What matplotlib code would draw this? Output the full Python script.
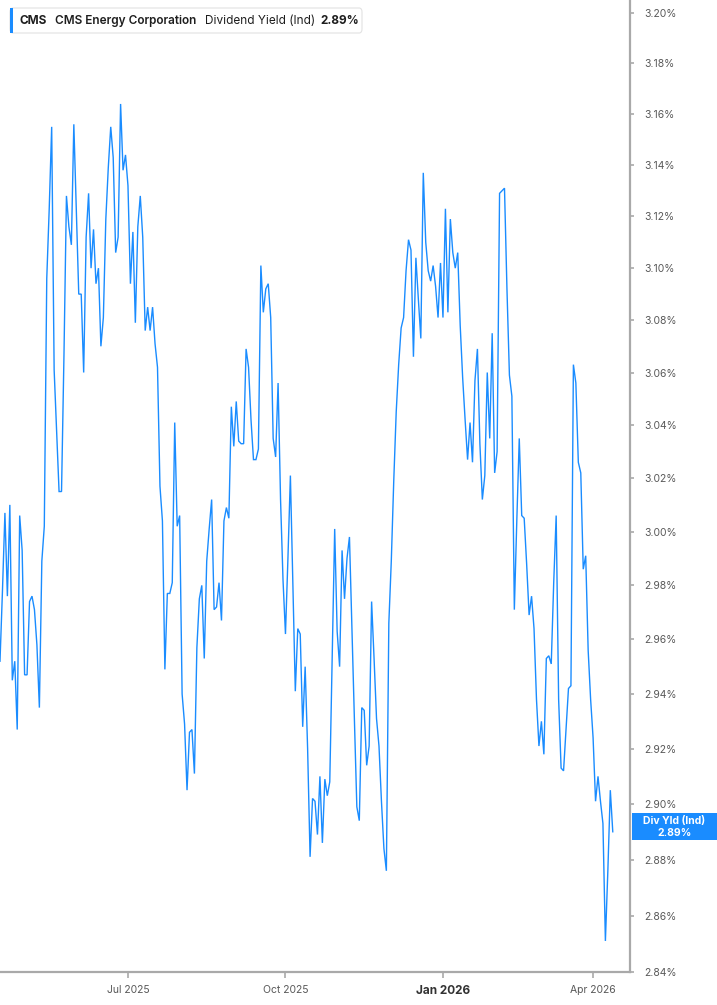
import numpy as np
import matplotlib
matplotlib.use("Agg")
import matplotlib.pyplot as plt
from matplotlib.patches import FancyBboxPatch, Rectangle
from matplotlib.ticker import FixedLocator, FuncFormatter, NullLocator

plt.rcParams['font.family'] = ['Inter', 'DejaVu Sans']

# --- data (one value per trading session) ---
ticker_sym = "CMS"
company = "CMS Energy Corporation"
metric = "Dividend Yield (Ind)"
short_metric = "Div Yld (Ind)"

div_yield = [
    2.952, 2.978, 3.007, 2.976, 3.010, 2.945, 2.952, 2.927, 3.006, 2.993,
    2.947, 2.947, 2.974, 2.976, 2.971, 2.958, 2.935, 2.989, 3.002, 3.096,
    3.123, 3.155, 3.061, 3.038, 3.015, 3.015, 3.067, 3.128, 3.116, 3.109,
    3.156, 3.123, 3.090, 3.090, 3.060, 3.112, 3.129, 3.100, 3.115, 3.094,
    3.100, 3.070, 3.081, 3.119, 3.139, 3.155, 3.143, 3.106, 3.112, 3.164,
    3.138, 3.144, 3.132, 3.094, 3.114, 3.079, 3.116, 3.128, 3.112, 3.076,
    3.085, 3.076, 3.085, 3.071, 3.062, 3.017, 3.004, 2.949, 2.977, 2.977,
    2.981, 3.041, 3.002, 3.006, 2.940, 2.929, 2.905, 2.926, 2.927, 2.911,
    2.957, 2.975, 2.980, 2.953, 2.989, 3.001, 3.012, 2.971, 2.972, 2.981,
    2.967, 3.004, 3.009, 3.005, 3.047, 3.032, 3.049, 3.034, 3.033, 3.033,
    3.069, 3.062, 3.042, 3.027, 3.027, 3.031, 3.101, 3.083, 3.092, 3.094,
    3.081, 3.035, 3.028, 3.056, 3.012, 2.982, 2.962, 2.990, 3.021, 2.981,
    2.941, 2.964, 2.962, 2.928, 2.950, 2.920, 2.881, 2.902, 2.901, 2.889,
    2.910, 2.886, 2.909, 2.903, 2.908, 2.954, 3.001, 2.963, 2.950, 2.993,
    2.975, 2.990, 2.998, 2.964, 2.931, 2.899, 2.894, 2.935, 2.934, 2.914,
    2.921, 2.974, 2.953, 2.931, 2.921, 2.901, 2.884, 2.876, 2.966, 2.989,
    3.019, 3.045, 3.063, 3.077, 3.081, 3.099, 3.111, 3.107, 3.066, 3.104,
    3.088, 3.073, 3.137, 3.110, 3.099, 3.095, 3.101, 3.093, 3.081, 3.102,
    3.081, 3.123, 3.083, 3.119, 3.106, 3.100, 3.106, 3.078, 3.058, 3.042,
    3.027, 3.041, 3.026, 3.057, 3.069, 3.033, 3.012, 3.021, 3.060, 3.035,
    3.075, 3.022, 3.030, 3.129, 3.130, 3.131, 3.092, 3.059, 3.051, 2.971,
    3.004, 3.035, 3.006, 3.005, 2.988, 2.969, 2.976, 2.964, 2.938, 2.921,
    2.930, 2.918, 2.953, 2.954, 2.951, 2.981, 3.006, 2.938, 2.913, 2.912,
    2.927, 2.942, 2.943, 3.063, 3.056, 3.026, 3.022, 2.986, 2.991, 2.956,
    2.938, 2.924, 2.901, 2.910, 2.901, 2.893, 2.851, 2.876, 2.905, 2.890,
]

month_labels = ["Jul 2025", "Oct 2025", "Jan 2026", "Apr 2026"]
month_sessions = [52, 116, 180, 241]
y_ticks = [2.84, 2.86, 2.88, 2.90, 2.92, 2.94, 2.96, 2.98, 3.00,
           3.02, 3.04, 3.06, 3.08, 3.10, 3.12, 3.14, 3.16, 3.18, 3.20]

BLUE = "#1a8cff"
AXIS_GRAY = "#a9a9a9"
TXT = "#595959"
DARK = "#1e1e1e"

W, H = 717, 1005
fig = plt.figure(figsize=(W / 100, H / 100), dpi=100)
fig.patch.set_facecolor("white")


def fx(px):
    return px / W


def fy(py):
    return 1 - py / H


ax = fig.add_axes([0, fy(972), fx(630), 1 - fy(972)])
x = np.arange(len(div_yield))
ax.plot(x, div_yield, color=BLUE, lw=1.0, solid_joinstyle="miter")

ax.set_yscale("log")
ax.set_ylim(2.84, 3.2052)
ax.set_xlim(0, 256)

# right-hand y axis
ax.yaxis.tick_right()
ax.yaxis.set_major_locator(FixedLocator(y_ticks))
ax.yaxis.set_minor_locator(NullLocator())
ax.yaxis.set_major_formatter(FuncFormatter(lambda v, _: f"{v:.2f}%"))
ax.tick_params(axis="y", direction="out", length=3, width=1.2, color=AXIS_GRAY,
               labelsize=7.5, labelcolor=TXT, pad=7)

# x axis
ax.set_xticks(month_sessions, month_labels)
ax.xaxis.set_minor_locator(NullLocator())
ax.tick_params(axis="x", direction="out", length=4, width=1.2, color=AXIS_GRAY,
               labelsize=7.5, labelcolor=TXT, pad=5)
for lbl in ax.get_xticklabels():
    if lbl.get_text().startswith("Jan"):
        lbl.set_fontweight("bold")
        lbl.set_color("#333333")
        lbl.set_fontsize(8.5)

for side in ("left", "top"):
    ax.spines[side].set_visible(False)
for side in ("right", "bottom"):
    ax.spines[side].set_color(AXIS_GRAY)
    ax.spines[side].set_linewidth(1.6)

# header legend box
hdr = FancyBboxPatch((fx(10), fy(33)), fx(352), 25 / H,
                     boxstyle="round,pad=0,rounding_size=0.004",
                     transform=fig.transFigure, facecolor="white",
                     edgecolor="#e2e2e2", lw=0.8, zorder=5)
fig.patches.append(hdr)
fig.patches.append(Rectangle((fx(10), fy(33)), fx(3), 25 / H,
                             transform=fig.transFigure, facecolor=BLUE,
                             edgecolor="none", zorder=6))
ty = fy(21)
fig.text(fx(20), ty, ticker_sym, fontsize=8.5, fontweight="bold",
         color=DARK, va="center", zorder=7)
fig.text(fx(55), ty, company, fontsize=8.5, fontweight="semibold",
         color=DARK, va="center", zorder=7)
fig.text(fx(205), ty, metric, fontsize=8.5, color=DARK, va="center", zorder=7)
fig.text(fx(320), ty, f"{div_yield[-1]:.2f}%", fontsize=8.5,
         fontweight="bold", color=DARK, va="center", zorder=7)

# last-value tag on the right axis
last_disp = ax.transData.transform((0, div_yield[-1]))[1]
to_fig = fig.transFigure.inverted()
x0 = ax.get_position().x1 + 2 / W
(_, yb) = to_fig.transform((0, last_disp - 8))
(_, yt) = to_fig.transform((0, last_disp + 19))
fig.patches.append(Rectangle((x0, yb), 1 - x0, yt - yb, transform=fig.transFigure,
                             facecolor=BLUE, edgecolor="none", zorder=5))
xc = (x0 + 1) / 2
(_, y1) = to_fig.transform((0, last_disp + 11))
(_, y2) = to_fig.transform((0, last_disp - 1))
fig.text(xc, y1, short_metric, fontsize=7.5, fontweight="bold", color="white",
         ha="center", va="center", zorder=6)
fig.text(xc, y2, f"{div_yield[-1]:.2f}%", fontsize=7.5, fontweight="bold",
         color="white", ha="center", va="center", zorder=6)

fig.savefig("out.png", dpi=100, facecolor="white")
